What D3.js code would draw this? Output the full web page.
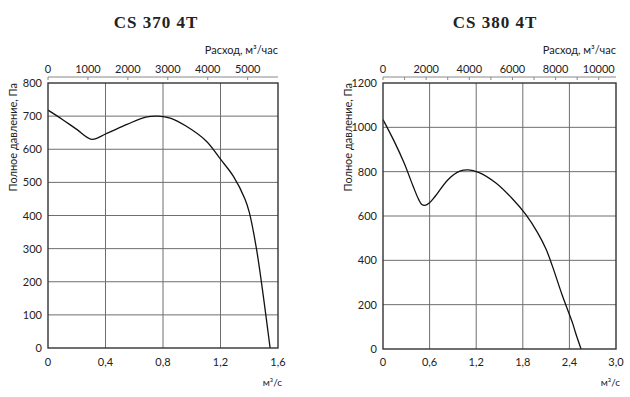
<!DOCTYPE html>
<html>
<head>
<meta charset="utf-8">
<script src="https://cdn.jsdelivr.net/npm/d3@7"></script>
<style>
  body { margin: 0; background: #fff; }
  svg text { font-family: Lato, "Open Sans", sans-serif; fill: #222; }
  .title { font-family: "Liberation Serif", serif !important; font-weight: bold; }
</style>
</head>
<body>
<div id="chart"></div>
<script>
// chart 1: CS 370 4T
const flow370 = [0, 0.1, 0.2, 0.305, 0.4, 0.55, 0.68, 0.77, 0.85, 0.96, 1.1, 1.2, 1.29, 1.37, 1.4, 1.45, 1.5, 1.545]
const press370 = [718, 690, 660, 630, 646, 675, 697, 700, 694, 670, 625, 570, 518, 450, 410, 300, 150, 0]
const yTicks370 = [0, 100, 200, 300, 400, 500, 600, 700, 800]
const xTicks370 = [0, 0.4, 0.8, 1.2, 1.6]
const topTicks370 = [0, 1000, 2000, 3000, 4000, 5000]
const topLabels370 = [0, 1000, 2000, 3000, 4000, 5000]

// chart 2: CS 380 4T
const flow380 = [0, 0.14, 0.272, 0.388, 0.46, 0.5, 0.54, 0.6, 0.67, 0.84, 0.99, 1.1, 1.23, 1.45, 1.66, 1.84, 1.99, 2.1, 2.18, 2.31, 2.44, 2.48, 2.55]
const press380 = [1035, 940, 839, 734, 674, 652, 648, 660, 688, 765, 802, 808, 797, 750, 680, 606, 525, 450, 375, 240, 118, 72, 0]
const yTicks380 = [0, 200, 400, 600, 800, 1000, 1200]
const xTicks380 = [0, 0.6, 1.2, 1.8, 2.4, 3.0]
const topTicks380 = [0, 1000, 2000, 3000, 4000, 5000, 6000, 7000, 8000, 9000, 10000]
const topLabels380 = [0, 2000, 4000, 6000, 8000, 10000]

const svg = d3.select("#chart").append("svg").attr("width", 630).attr("height", 397)

function drawChart(o) {
  const g = svg.append("g")
  const x = d3.scaleLinear().domain([0, o.xMax]).range([o.left, o.right])
  const y = d3.scaleLinear().domain([0, o.yMax]).range([o.bottom, o.top])
  // top axis is in m3/h, same length as m3/s axis
  const xh = d3.scaleLinear().domain([0, o.xMax * 3600]).range([o.left, o.right])
  const fmt = d => d3.format(o.xFmt)(d).replace(".", ",")

  // title
  g.append("text").attr("class", "title")
    .attr("x", o.titleX).attr("y", 28)
    .attr("text-anchor", "middle")
    .style("font-size", "17px").style("letter-spacing", "1px")
    .text(o.title)

  // grid
  g.selectAll(".hg").data(o.yTicks.slice(1, -1)).enter().append("line")
    .attr("x1", o.left).attr("x2", o.right)
    .attr("y1", d => y(d)).attr("y2", d => y(d))
    .attr("stroke", "#6e6e6e").attr("stroke-width", 1)
  g.selectAll(".vg").data(o.xTicks.slice(1, -1)).enter().append("line")
    .attr("y1", o.top).attr("y2", o.bottom)
    .attr("x1", d => x(d)).attr("x2", d => x(d))
    .attr("stroke", "#6e6e6e").attr("stroke-width", 1)

  // top axis (m3/h)
  g.append("line").attr("x1", o.left).attr("x2", o.right)
    .attr("y1", 77).attr("y2", 77).attr("stroke", "#888").attr("stroke-width", 1)
  g.selectAll(".tt").data(o.topTicks).enter().append("line")
    .attr("x1", d => xh(d)).attr("x2", d => xh(d))
    .attr("y1", 77).attr("y2", 80).attr("stroke", "#888")
  g.selectAll(".tl").data(o.topLabels).enter().append("text")
    .attr("x", d => xh(d)).attr("y", 73)
    .attr("text-anchor", "middle").style("font-size", "11px")
    .text(d => d)
  g.append("text").attr("x", o.right).attr("y", 54)
    .attr("text-anchor", "end").style("font-size", "11px")
    .text("Расход, м³/час")

  // y labels
  g.selectAll(".yl").data(o.yTicks).enter().append("text")
    .attr("x", o.left - 6).attr("y", d => y(d) + 4)
    .attr("text-anchor", "end").style("font-size", "11px")
    .text(d => d)
  g.append("text")
    .attr("transform", `translate(${o.left - 31},${o.top}) rotate(-90)`)
    .attr("text-anchor", "end").style("font-size", "11px")
    .text("Полное давление, Па")

  // x labels
  g.selectAll(".xl").data(o.xTicks).enter().append("text")
    .attr("x", d => x(d)).attr("y", 366)
    .attr("text-anchor", "middle").style("font-size", "11px")
    .text(d => d === 0 ? "0" : fmt(d))
  g.append("text").attr("x", o.right + 4).attr("y", 386)
    .attr("text-anchor", "end").style("font-size", "10px")
    .text("м³/с")

  // curve
  const pts = o.flow.map((f, i) => [f, o.press[i]])
  g.append("path").datum(pts)
    .attr("d", d3.line().x(d => x(d[0])).y(d => y(d[1])).curve(d3.curveCatmullRom.alpha(0.5)))
    .attr("fill", "none").attr("stroke", "#111").attr("stroke-width", 1.3)

  // frame
  g.append("rect").attr("x", o.left).attr("y", o.top)
    .attr("width", o.right - o.left).attr("height", o.bottom - o.top)
    .attr("fill", "none").attr("stroke", "#333").attr("stroke-width", 1.4)
}

drawChart({
  title: "CS 370 4T", titleX: 156,
  left: 48, right: 278, top: 83, bottom: 348,
  xMax: 1.6, yMax: 800, xFmt: ".1f",
  yTicks: yTicks370, xTicks: xTicks370,
  topTicks: topTicks370, topLabels: topLabels370,
  flow: flow370, press: press370
})
drawChart({
  title: "CS 380 4T", titleX: 495,
  left: 383, right: 616, top: 83, bottom: 349,
  xMax: 3.0, yMax: 1200, xFmt: ".1f",
  yTicks: yTicks380, xTicks: xTicks380,
  topTicks: topTicks380, topLabels: topLabels380,
  flow: flow380, press: press380
})
</script>
</body>
</html>
